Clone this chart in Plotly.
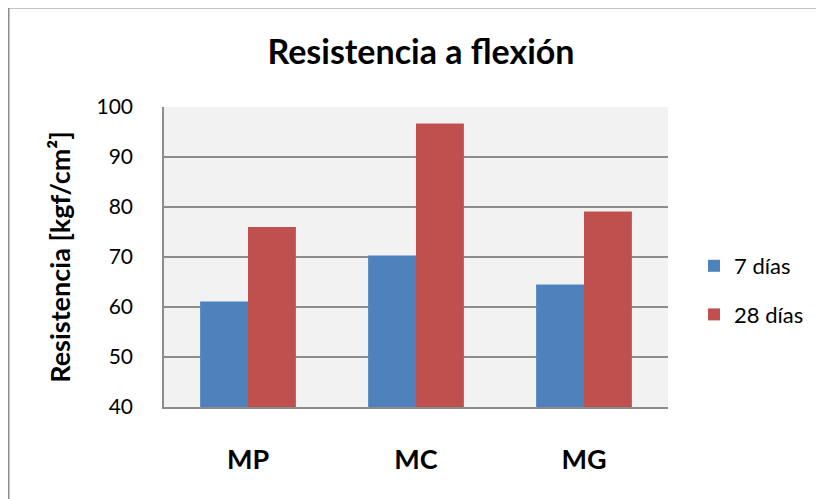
import plotly.graph_objects as go

categories = ["MP", "MC", "MG"]
series_names = ["7 días", "28 días"]
values_7 = [61.1, 70.3, 64.5]
values_28 = [76.0, 96.7, 79.1]
colors = ["#4f81bd", "#c0504d"]
y_ticks = [40, 50, 60, 70, 80, 90, 100]

OFF = 8  # default page body margin
W, H = 824 - OFF, 499 - OFF
# plot area in page pixels: x 164..668, y 106.7..406.7
L, T = 164 - OFF, 107 - OFF
pw, ph = 504, 300
R, B = W - L - pw, H - T - ph

def px_x(x):  # page px -> paper
    return (x - OFF - L) / pw

def px_y(y):
    return (T + ph - (y - OFF)) / ph

fig = go.Figure()
for name, vals, col in zip(series_names, [values_7, values_28], colors):
    fig.add_trace(go.Bar(
        x=categories, y=vals, name=name, legendgroup=name,
        marker=dict(color=col, line=dict(width=0)),
    ))

fig.update_layout(
    width=W, height=H,
    margin=dict(l=L, r=R, t=T, b=B, autoexpand=False),
    paper_bgcolor="white",
    plot_bgcolor="#f2f2f2",
    barmode="group",
    bargap=0.43,
    bargroupgap=0,
    font=dict(family="Lato, Carlito, sans-serif", color="#000000", size=17),
    title=dict(
        text="<b>Resistencia a flexión</b>",
        x=(421 - OFF) / W, xanchor="center",
        y=1 - (52 - OFF) / H, yanchor="middle",
        font=dict(size=34, family="Lato, sans-serif", color="#000000"),
    ),
    legend=dict(
        x=px_x(694), xanchor="left",
        y=px_y(245), yanchor="top",
        font=dict(size=22, family="Lato, sans-serif"),
        tracegroupgap=17,
        bgcolor="rgba(0,0,0,0)",
        itemclick=False,
    ),
    showlegend=True,
)

fig.update_yaxes(
    range=[40, 100],
    tickvals=y_ticks,
    showgrid=True, gridcolor="#8c8c8c", gridwidth=1.5,
    showline=True, linecolor="#8c8c8c", linewidth=1.5,
    ticks="",
    ticklabelstandoff=25,
    tickfont=dict(size=21),
    zeroline=False,
    title=dict(text="<b>Resistencia [kgf/cm²]</b>", font=dict(size=27), standoff=18),
)
fig.update_xaxes(
    showline=True, linecolor="#8c8c8c", linewidth=1.5,
    ticks="",
    ticklabelstandoff=28,
    tickfont=dict(size=27),
    tickprefix="<b>", ticksuffix="</b>",
)

# outer chart border
fig.add_shape(
    type="rect", xref="paper", yref="paper",
    x0=px_x(8.5), x1=px_x(840), y0=px_y(515), y1=px_y(7.5),
    line=dict(color="#8c8c8c", width=2), fillcolor="rgba(0,0,0,0)",
    layer="below",
)

fig.write_html("out.html")
